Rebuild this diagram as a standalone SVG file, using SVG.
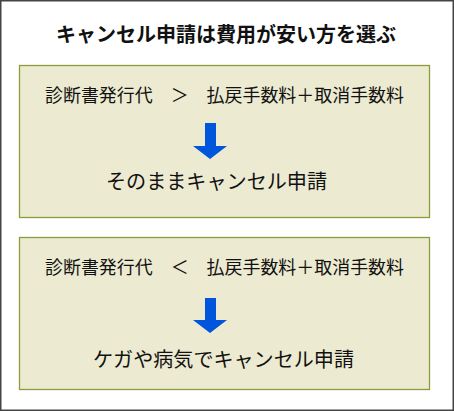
<svg xmlns="http://www.w3.org/2000/svg" width="454" height="411" viewBox="0 0 454 411">
<style>
.t{font-family:"Noto Sans CJK JP","Noto Sans",sans-serif;fill:#111}
.box{fill:#ECEAD0;stroke:#8E9A3E;stroke-width:1.3}
.arr{fill:#0055DD}
</style>
<rect x="0.75" y="0.75" width="452.5" height="409.5" fill="#ffffff" stroke="#444444" stroke-width="1.5"/>
<text class="t" x="56" y="42" font-size="20" font-weight="bold" textLength="340" lengthAdjust="spacingAndGlyphs">キャンセル申請は費用が安い方を選ぶ</text>
<g id="node1">
<rect class="box" x="19.5" y="65.5" width="410" height="152"/>
<text class="t" x="45" y="102" font-size="18" textLength="359" lengthAdjust="spacingAndGlyphs">診断書発行代　＞　払戻手数料＋取消手数料</text>
<text class="t" x="106" y="189" font-size="20" textLength="221" lengthAdjust="spacingAndGlyphs">そのままキャンセル申請</text>
</g>
<g id="node2">
<rect class="box" x="19.5" y="237.5" width="410" height="152"/>
<text class="t" x="45" y="274" font-size="18" textLength="359" lengthAdjust="spacingAndGlyphs">診断書発行代　＜　払戻手数料＋取消手数料</text>
<text class="t" x="93" y="367" font-size="20" textLength="261" lengthAdjust="spacingAndGlyphs">ケガや病気でキャンセル申請</text>
</g>
<g id="connectors">
<polygon class="arr" points="205,123 216,123 216,146 227,146 210,159 193,146 205,146"/>
<polygon class="arr" points="205,298 216,298 216,320 227,320 210,333 193,320 205,320"/>
</g>
</svg>
